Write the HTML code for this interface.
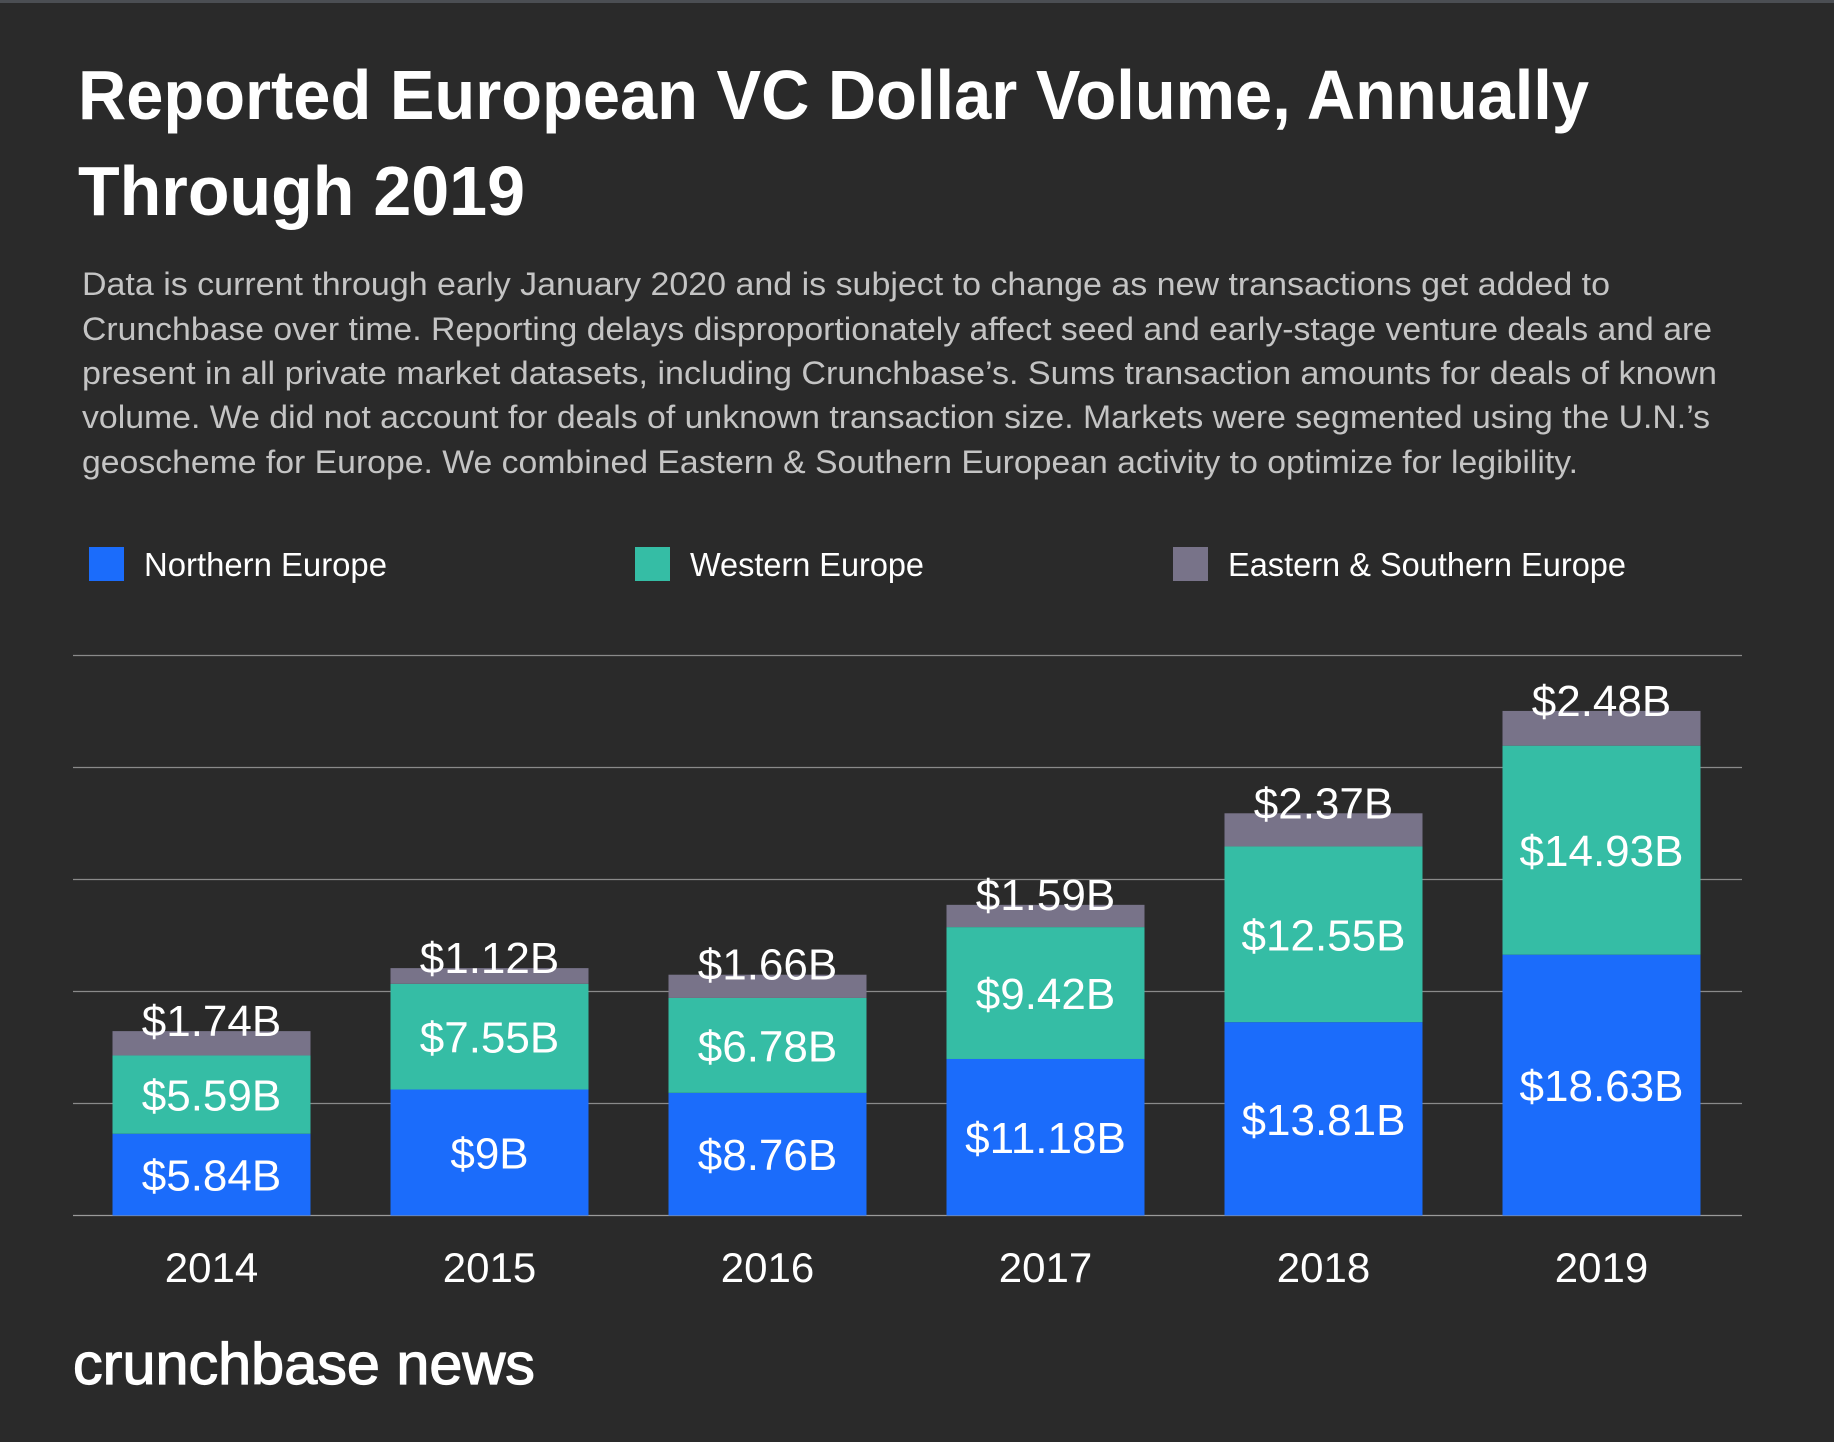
<!DOCTYPE html>
<html><head><meta charset="utf-8"><style>
html,body{margin:0;padding:0;background:#2a2a2a;}
svg{display:block;font-family:"Liberation Sans",sans-serif;}
</style></head><body>
<svg id="chart" width="1834" height="1442" viewBox="0 0 1834 1442">
<rect x="0" y="0" width="1834" height="1442" fill="#2a2a2a"/>
<rect x="0" y="0" width="1834" height="3" fill="#4b4e53"/>
<g fill="#ffffff" font-weight="bold" font-size="70">
<text x="78" y="119" textLength="1511" lengthAdjust="spacingAndGlyphs">Reported European VC Dollar Volume, Annually</text>
<text x="78" y="215" textLength="447" lengthAdjust="spacingAndGlyphs">Through 2019</text>
</g>
<g fill="#c4c4c4" font-size="32">
<text x="82" y="295" textLength="1528" lengthAdjust="spacingAndGlyphs">Data is current through early January 2020 and is subject to change as new transactions get added to</text>
<text x="82" y="340" textLength="1630" lengthAdjust="spacingAndGlyphs">Crunchbase over time. Reporting delays disproportionately affect seed and early-stage venture deals and are</text>
<text x="82" y="384" textLength="1635" lengthAdjust="spacingAndGlyphs">present in all private market datasets, including Crunchbase’s. Sums transaction amounts for deals of known</text>
<text x="82" y="428" textLength="1628" lengthAdjust="spacingAndGlyphs">volume. We did not account for deals of unknown transaction size. Markets were segmented using the U.N.’s</text>
<text x="82" y="473" textLength="1496" lengthAdjust="spacingAndGlyphs">geoscheme for Europe. We combined Eastern &amp; Southern European activity to optimize for legibility.</text>
</g>
<g font-size="33" fill="#ffffff">
<g><rect x="89" y="547" width="35" height="34" fill="#1b6cfb"/><text x="144" y="576" textLength="243" lengthAdjust="spacingAndGlyphs">Northern Europe</text></g>
<g><rect x="635" y="547" width="35" height="34" fill="#35bda5"/><text x="690" y="576" textLength="234" lengthAdjust="spacingAndGlyphs">Western Europe</text></g>
<g><rect x="1173" y="547" width="35" height="34" fill="#787389"/><text x="1228" y="576" textLength="398" lengthAdjust="spacingAndGlyphs">Eastern &amp; Southern Europe</text></g>
</g>
<g id="grid"></g>
<g id="bars"></g>
<g id="labels"></g>
<g id="xaxis"></g>
<text x="73" y="1384" fill="#ffffff" stroke="#ffffff" stroke-width="1.2" font-size="58" textLength="462" lengthAdjust="spacingAndGlyphs">crunchbase news</text>
</svg>
<script>
const categories = ["2014","2015","2016","2017","2018","2019"];
const northern = [5.84, 9, 8.76, 11.18, 13.81, 18.63];
const western = [5.59, 7.55, 6.78, 9.42, 12.55, 14.93];
const easternSouthern = [1.74, 1.12, 1.66, 1.59, 2.37, 2.48];
const northernLabels = ["$5.84B","$9B","$8.76B","$11.18B","$13.81B","$18.63B"];
const westernLabels = ["$5.59B","$7.55B","$6.78B","$9.42B","$12.55B","$14.93B"];
const easternLabels = ["$1.74B","$1.12B","$1.66B","$1.59B","$2.37B","$2.48B"];
const gridTicks = [0, 8, 16, 24, 32, 40];

const NS = "http://www.w3.org/2000/svg";
const baseY = 1215.5, pxPerB = 14.0;
const y = v => baseY - v * pxPerB;
const xCenter = i => 211.5 + i * 278;
const barW = 198;
function mk(tag, attrs, parent){const e=document.createElementNS(NS,tag);for(const k in attrs)e.setAttribute(k,attrs[k]);parent.appendChild(e);return e;}
const grid=document.getElementById('grid'), bars=document.getElementById('bars'), labels=document.getElementById('labels'), xaxis=document.getElementById('xaxis');
gridTicks.forEach(t=>{
  const l=mk('line',{x1:73,x2:1742,y1:y(t),y2:y(t),stroke:t===0?'#9a9a9a':'#8a8a8a','stroke-width':1.3},grid);
  
  
});
const series=[{d:northern,c:'#1b6cfb',lab:northernLabels,n:'northern'},{d:western,c:'#35bda5',lab:westernLabels,n:'western'},{d:easternSouthern,c:'#787389',lab:easternLabels,n:'eastern-southern'}];
categories.forEach((cat,i)=>{
  let acc=0;
  series.forEach((s,si)=>{
    const v=s.d[i], top=y(acc+v), bot=y(acc);
    const r=mk('rect',{x:xCenter(i)-barW/2,y:top,width:barW,height:bot-top,fill:s.c},bars);
    
    
    const ty = si===2 ? top+5 : (top+bot)/2+16;
    const t=mk('text',{x:xCenter(i),y:ty,'text-anchor':'middle',fill:'#ffffff','font-size':44},labels);
    t.textContent=s.lab[i];
    
    
    acc+=v;
  });
  const xt=mk('text',{x:xCenter(i),y:1282,'text-anchor':'middle',fill:'#ffffff','font-size':42},xaxis);
  xt.textContent=cat;
  
  
});
</script>
</body></html>
